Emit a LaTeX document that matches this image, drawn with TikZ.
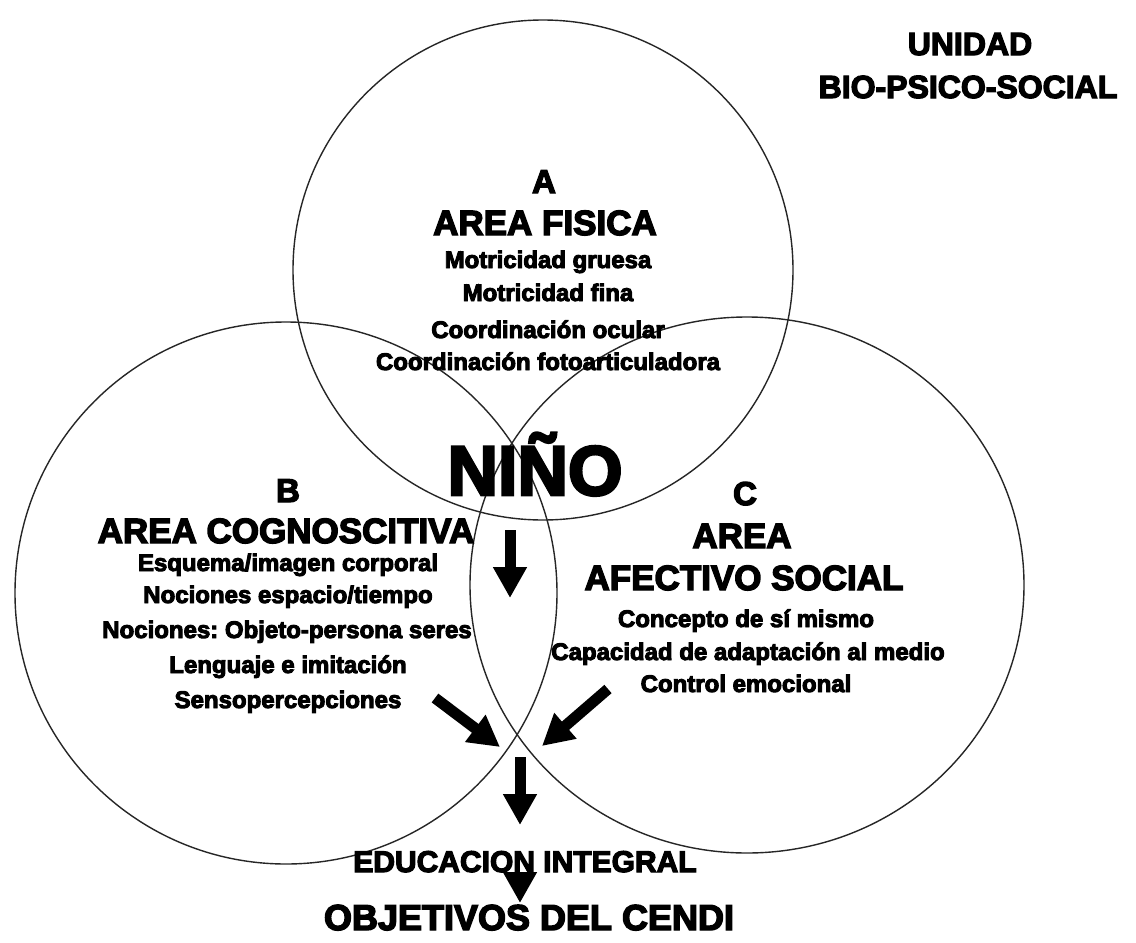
\documentclass[tikz,border=0pt]{standalone}
\usepackage{fontspec}
\setmainfont{Liberation Sans}[BoldFeatures={FakeBold=4}]
\usetikzlibrary{arrows.meta,shapes.geometric}
\frenchspacing
\begin{document}
\begin{tikzpicture}[x=1pt,y=-1pt,
  ring/.style={draw=black!85, line width=1.4pt, inner sep=0pt, outer sep=0pt},
  item/.style={font=\fontsize{24}{26}\selectfont\bfseries, inner sep=0pt, anchor=base},
  title/.style={font=\fontsize{35}{38}\selectfont\bfseries, inner sep=0pt, anchor=base},
  letter/.style={font=\fontsize{33}{36}\selectfont\bfseries, inner sep=0pt, anchor=base},
  blockarrow/.style={line width=11pt, -{Triangle[width=32pt,length=31pt]}},
]
\path[fill=white, use as bounding box] (0,0) rectangle (1136,943);

% the three areas
\node[ring, circle, minimum size=500pt] (fis) at (543,270) {};
\node[ring, circle, minimum size=542pt] (cog) at (286,593) {};
\node[ring, ellipse, minimum width=554pt, minimum height=536pt] (afe) at (747,585) {};

% heading
\node[title, font=\fontsize{32}{34}\selectfont\bfseries] (uni1) at (970,55) {UNIDAD};
\node[title, font=\fontsize{32}{34}\selectfont\bfseries] (uni2) at (968,98) {BIO-PSICO-SOCIAL};

% area A
\node[letter] (aA) at (544,193) {A};
\node[title] (aT) at (545,235) {AREA FISICA};
\node[item] (a1) at (548,268) {Motricidad gruesa};
\node[item] (a2) at (548,301) {Motricidad fina};
\node[item] (a3) at (548,338) {Coordinación ocular};
\node[item] (a4) at (548,370) {Coordinación fotoarticuladora};

% area B
\node[letter] (bB) at (288,502) {B};
\node[title] (bT) at (286,543) {AREA COGNOSCITIVA};
\node[item] (b1) at (288,571) {Esquema/imagen corporal};
\node[item] (b2) at (288,603) {Nociones espacio/tiempo};
\node[item] (b3) at (287,638) {Nociones: Objeto-persona seres};
\node[item] (b4) at (288,673) {Lenguaje e imitación};
\node[item] (b5) at (288,708) {Sensopercepciones};

% area C
\node[letter] (cC) at (745,505) {C};
\node[title] (cT1) at (742,548) {AREA};
\node[title] (cT2) at (744,590) {AFECTIVO SOCIAL};
\node[item] (c1) at (746,627) {Concepto de sí mismo};
\node[item] (c2) at (748,660) {Capacidad de adaptación al medio};
\node[item] (c3) at (746,692) {Control emocional};

% centre and results
\node[title, font=\fontsize{70}{72}\selectfont\bfseries] (nino) at (535,495) {NIÑO};
\node[title, font=\fontsize{30}{32}\selectfont\bfseries] (edu) at (525,872) {EDUCACION INTEGRAL};
\node[title, font=\fontsize{36}{38}\selectfont\bfseries] (obj) at (529,930) {OBJETIVOS DEL CENDI};

% arrow end points
\coordinate (p1) at (510,530);
\coordinate (p2) at (510,598);
\coordinate (l1) at (435,698);
\coordinate (l2) at (500,747);
\coordinate (r1) at (608,689);
\coordinate (r2) at (542,746);
\coordinate (q1) at (520,757);
\coordinate (q2) at (520,825);
\coordinate (s1) at (520,872);
\coordinate (s2) at (520,903);

\draw[blockarrow] (p1) -- (p2);
\draw[blockarrow] (l1) -- (l2);
\draw[blockarrow] (r1) -- (r2);
\draw[blockarrow] (q1) -- (q2);
\draw[blockarrow] (s1) -- (s2);
\end{tikzpicture}
\end{document}
